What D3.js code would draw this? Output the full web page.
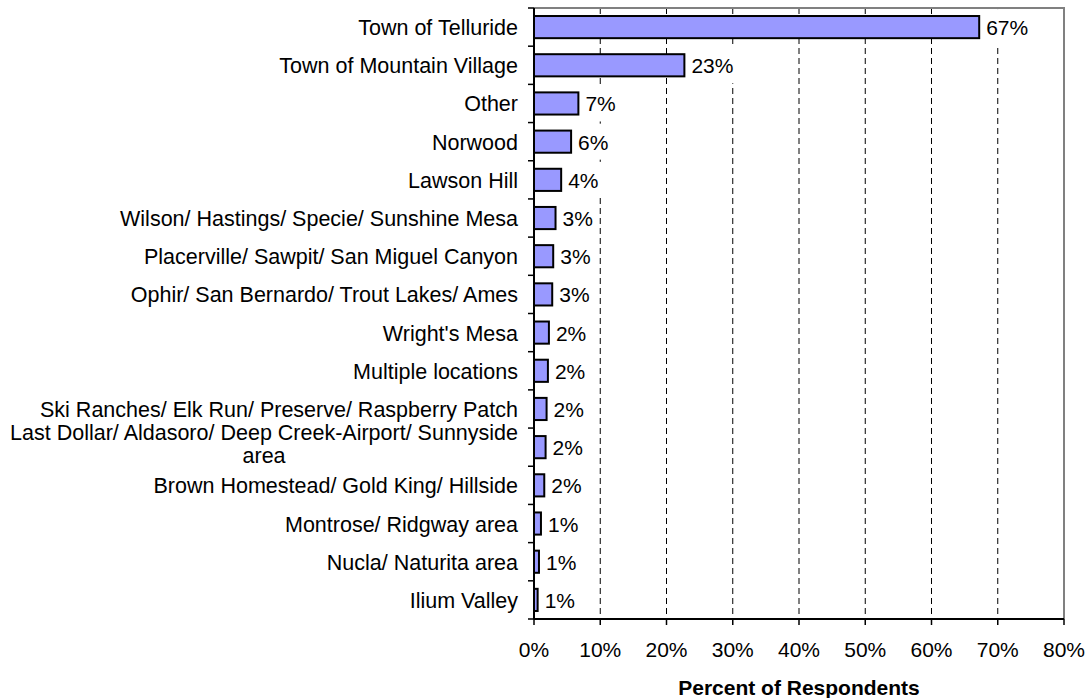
<!DOCTYPE html>
<html>
<head>
<meta charset="utf-8">
<script src="https://cdn.jsdelivr.net/npm/d3@7"></script>
<style>
  body { margin: 0; background: #fff; }
  svg { display: block; font-family: "Liberation Sans", Arial, sans-serif; }
  .cat { font-size: 21.5px; fill: #000; }
  .val { font-size: 21px; fill: #000; }
  .tick-label { font-size: 21px; fill: #000; }
  .title { font-size: 21px; font-weight: bold; fill: #000; }
</style>
</head>
<body>
<svg id="chart" width="1091" height="698"></svg>
<script>
//
// data
var categories = [
  'Town of Telluride',
  'Town of Mountain Village',
  'Other',
  'Norwood',
  'Lawson Hill',
  'Wilson/ Hastings/ Specie/ Sunshine Mesa',
  'Placerville/ Sawpit/ San Miguel Canyon',
  'Ophir/ San Bernardo/ Trout Lakes/ Ames',
  "Wright's Mesa",
  'Multiple locations',
  'Ski Ranches/ Elk Run/ Preserve/ Raspberry Patch',
  'Last Dollar/ Aldasoro/ Deep Creek-Airport/ Sunnyside|area',
  'Brown Homestead/ Gold King/ Hillside',
  'Montrose/ Ridgway area',
  'Nucla/ Naturita area',
  'Ilium Valley'
];
var percents = [67.2, 22.7, 6.7, 5.6, 4.1, 3.25, 2.9, 2.75, 2.25, 2.1, 1.9, 1.75, 1.55, 1.05, 0.75, 0.55];
var xTicks = [0, 10, 20, 30, 40, 50, 60, 70, 80];
var axisTitle = 'Percent of Respondents';

//
// layout
var svg = d3.select('#chart'),
    pLeft = 534, pRight = 1064, pTop = 8, pBottom = 619,
    rows = categories.map(function(c, i) { return { name: c, value: percents[i] }; });

var x = d3.scaleLinear().domain([0, 80]).range([pLeft, pRight]),
    y = d3.scaleBand().domain(categories).range([pTop, pBottom])
          .paddingInner(0.42).paddingOuter(0.21),
    mid = function(d) { return y(d.name) + y.bandwidth() / 2; };

// dashed gridlines
svg.selectAll('.grid').data(xTicks.slice(1, -1)).enter()
  .append('line').attr('class', 'grid')
  .attr('x1', x).attr('x2', x)
  .attr('y1', pTop).attr('y2', pBottom)
  .attr('stroke', '#000').attr('stroke-width', 1)
  .attr('stroke-dasharray', '6,4');

// plot border, top and right (grey)
svg.append('path')
  .attr('d', 'M' + pLeft + ',' + pTop + 'H' + pRight + 'V' + pBottom)
  .attr('fill', 'none').attr('stroke', '#808080').attr('stroke-width', 2);

// bars
svg.selectAll('.bar').data(rows).enter()
  .append('rect').attr('class', 'bar')
  .attr('x', x(0))
  .attr('y', function(d) { return y(d.name); })
  .attr('width', function(d) { return x(d.value) - x(0); })
  .attr('height', y.bandwidth())
  .attr('fill', '#9999ff')
  .attr('stroke', '#000').attr('stroke-width', 2);

// left axis
var yAxis = svg.append('g'),
    step = y.step();
yAxis.append('line')
  .attr('x1', pLeft).attr('x2', pLeft).attr('y1', pTop).attr('y2', pBottom)
  .attr('stroke', '#000').attr('stroke-width', 2);
yAxis.selectAll('.ytick').data(d3.range(0, categories.length + 1)).enter()
  .append('line').attr('class', 'ytick')
  .attr('x1', pLeft - 6).attr('x2', pLeft)
  .attr('y1', function(i) { return pTop + i * step; })
  .attr('y2', function(i) { return pTop + i * step; })
  .attr('stroke', '#000').attr('stroke-width', 1.5);

// bottom axis
var xAxis = svg.append('g');
xAxis.append('line')
  .attr('x1', pLeft).attr('x2', pRight).attr('y1', pBottom).attr('y2', pBottom)
  .attr('stroke', '#000').attr('stroke-width', 2);
xAxis.selectAll('.xtick').data(xTicks).enter()
  .append('line').attr('class', 'xtick')
  .attr('x1', x).attr('x2', x)
  .attr('y1', pBottom).attr('y2', pBottom + 6)
  .attr('stroke', '#000').attr('stroke-width', 1.5);
xAxis.selectAll('.tick-label').data(xTicks).enter()
  .append('text').attr('class', 'tick-label')
  .attr('x', x).attr('y', 657)
  .attr('text-anchor', 'middle')
  .text(function(d) { return d + '%'; });

svg.append('text').attr('class', 'title')
  .attr('x', (pLeft + pRight) / 2).attr('y', 695)
  .attr('text-anchor', 'middle')
  .text(axisTitle);

// category labels (one label wraps onto two lines)
svg.selectAll('.cat').data(rows).enter()
  .append('text').attr('class', 'cat')
  .each(function(d) {
    var lines = d.name.split('|'),
        cy = mid(d),
        t = d3.select(this);
    if (lines.length === 1) {
      t.attr('x', pLeft - 16).attr('y', cy + 8).attr('text-anchor', 'end').text(lines[0]);
    } else {
      t.attr('text-anchor', 'middle');
      var first = t.append('tspan').attr('y', cy - 7).text(lines[0]),
          w = first.node().getComputedTextLength(),
          cx = pLeft - 16 - w / 2;
      first.attr('x', cx);
      t.append('tspan').attr('x', cx).attr('y', cy + 16).text(lines[1]);
    }
  });

// value labels on white boxes
var vals = svg.selectAll('.valg').data(rows).enter()
  .append('g').attr('class', 'valg');
vals.append('rect').attr('fill', '#fff');
vals.append('text').attr('class', 'val')
  .attr('x', function(d) { return x(d.value) + 7; })
  .attr('y', function(d) { return mid(d) + 8; })
  .text(function(d) { return Math.round(d.value) + '%'; });
vals.each(function(d) {
  var g = d3.select(this),
      w = g.select('text').node().getComputedTextLength();
  g.select('rect')
    .attr('x', x(d.value) + 3).attr('width', w + 8)
    .attr('y', mid(d) - 18).attr('height', 36);
});
</script>
</body>
</html>
